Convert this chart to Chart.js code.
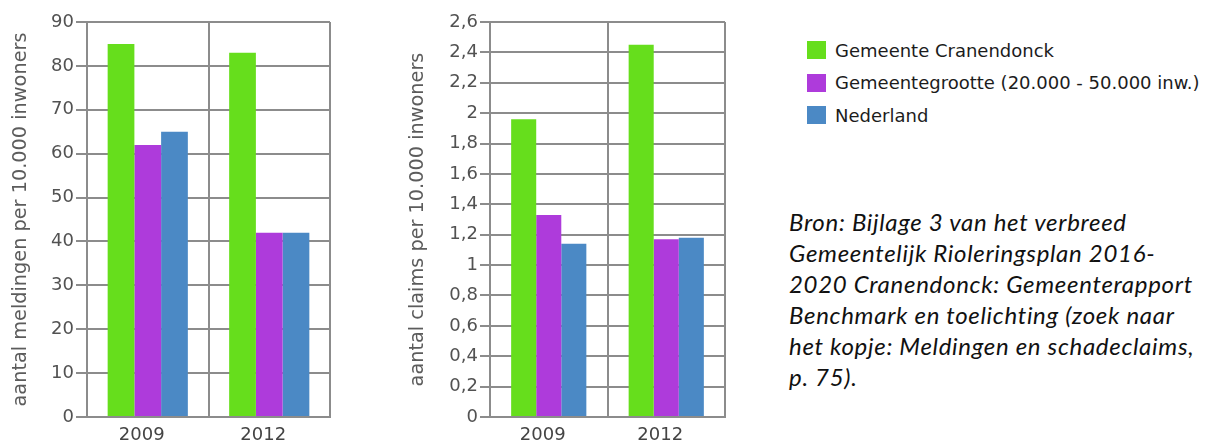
<!DOCTYPE html>
<html>
<head>
<meta charset="utf-8">
<script src="https://cdn.jsdelivr.net/npm/chart.js@4"></script>
<style>
  body { margin: 0; background: #fff; width: 1212px; height: 446px; position: relative; overflow: hidden; }
  .box { position: absolute; top: 0; height: 446px; }
  #legend { position: absolute; left: 807px; top: 34px; font-family: "DejaVu Sans", Verdana, sans-serif; font-size: 18px; color: #1c1c1c; }
  #legend div { height: 32.5px; display: flex; align-items: center; white-space: nowrap; }
  #legend span.sw { display: inline-block; width: 19px; height: 18px; margin-right: 9px; }
  #bron { position: absolute; left: 789px; top: 206px; width: 430px; font-family: Lato, "Open Sans", sans-serif; font-style: italic; font-size: 24px; letter-spacing: 0.7px; line-height: 31px; color: #111; white-space: nowrap; }
</style>
</head>
<body>
<div class="box" style="left:0;width:340px"><canvas id="meldingen"></canvas></div>
<div class="box" style="left:380px;width:350px"><canvas id="claims"></canvas></div>
<div id="legend"></div>
<div id="bron">Bron: Bijlage 3 van het verbreed<br>Gemeentelijk Rioleringsplan 2016-<br>2020 Cranendonck: Gemeenterapport<br>Benchmark en toelichting (zoek naar<br>het kopje: Meldingen en schadeclaims,<br>p. 75).</div>
<script>
const jaren = ['2009', '2012'];
const reeksen = ['Gemeente Cranendonck', 'Gemeentegrootte (20.000 - 50.000 inw.)', 'Nederland'];
const kleuren = ['#66de1c', '#ae3bdb', '#4b89c5'];

// meldingen per 10.000 inwoners, per reeks
const meldingen = [
    [85, 83],
    [62, 42],
    [65, 42]
];
// claims per 10.000 inwoners, per reeks
const claims = [
    [1.96, 2.45],
    [1.33, 1.17],
    [1.14, 1.18]
];

const family = '"DejaVu Sans", Verdana, sans-serif';
const lijn = '#8c8c8c';

function maakGrafiek(id, waarden, titel, max, stap, asBreedte, titelAfstand, tickLengte, rechts, frac) {
    const ctx = document.getElementById(id).getContext('2d');
    return new Chart(ctx, {
        type: 'bar',
        data: {
            labels: jaren,
            datasets: reeksen.map((naam, i) => ({
                label: naam,
                data: waarden[i],
                backgroundColor: kleuren[i],
                borderWidth: 0,
                barPercentage: 1,
                categoryPercentage: frac
            }))
        },
        options: {
            responsive: true,
            maintainAspectRatio: false,
            animation: false,
            layout: { padding: { top: 22, right: rechts, left: 0, bottom: 0 } },
            plugins: { legend: { display: false }, tooltip: { enabled: false } },
            scales: {
                x: {
                    grid: { color: lijn, lineWidth: 2, drawTicks: false, offset: true },
                    border: { color: lijn, width: 2 },
                    ticks: { color: '#444', font: { family: family, size: 18 }, padding: 8, labelOffset: -6 },
                    afterFit: s => { s.height = 29; }
                },
                y: {
                    min: 0,
                    max: max,
                    ticks: {
                        stepSize: stap,
                        color: '#525252',
                        font: { family: family, size: 18 },
                        padding: 2,
                        callback: v => String(Math.round(v * 10) / 10).replace('.', ',')
                    },
                    grid: { color: lijn, lineWidth: 2, tickLength: tickLengte, tickColor: lijn },
                    border: { color: lijn, width: 2 },
                    title: { display: true, text: titel, color: '#5c5c5c', font: { family: family, size: 19.3 }, padding: { top: titelAfstand, bottom: 0 } },
                    afterFit: s => { s.width = asBreedte; }
                }
            }
        }
    });
}

maakGrafiek('meldingen', meldingen, 'aantal meldingen per 10.000 inwoners', 90, 10, 87, 9, 11, 10, 0.66);
maakGrafiek('claims', claims, 'aantal claims per 10.000 inwoners', 2.6, 0.2, 110, 26, 10, 5, 0.64);

// legenda
const legend = document.getElementById('legend');
reeksen.forEach((naam, i) => {
    const rij = document.createElement('div');
    rij.innerHTML = '<span class="sw" style="background:' + kleuren[i] + '"></span>' + naam;
    legend.appendChild(rij);
});
</script>
</body>
</html>
